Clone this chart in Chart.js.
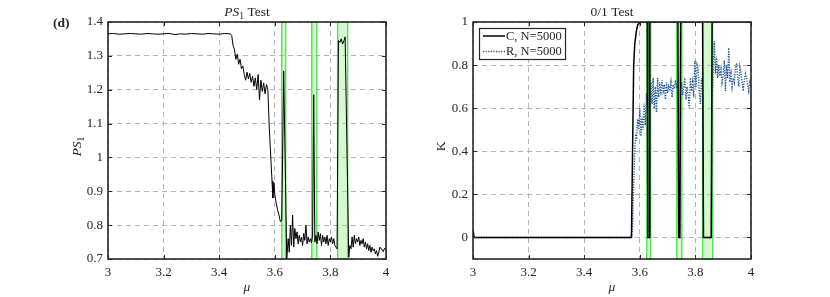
<!DOCTYPE html>
<html>
<head>
<meta charset="utf-8">
<script src="https://cdn.jsdelivr.net/npm/chart.js@4.4.1/dist/chart.umd.min.js"></script>
<style>
html, body { margin: 0; padding: 0; background: #fff; }
#wrap { position: relative; width: 830px; height: 297px; }
canvas { position: absolute; top: 0; }
#left { left: 0; }
#right { left: 415px; }
</style>
</head>
<body>
<div id="wrap">
<canvas id="left" width="415" height="297"></canvas>
<canvas id="right" width="415" height="297"></canvas>
</div>
<script>
"use strict";

// ---- data ----
const muTicks = [3, 3.2, 3.4, 3.6, 3.8, 4];
const muLabels = ["3", "3.2", "3.4", "3.6", "3.8", "4"];
const psTicks = [0.7, 0.8, 0.9, 1, 1.1, 1.2, 1.3, 1.4];
const psLabels = ["0.7", "0.8", "0.9", "1", "1.1", "1.2", "1.3", "1.4"];
const kTicks = [0, 0.2, 0.4, 0.6, 0.8, 1];
const kLabels = ["0", "0.2", "0.4", "0.6", "0.8", "1"];

// periodic windows (green bands)
const bandStart = [3.625, 3.733, 3.826];
const bandEnd = [3.639, 3.751, 3.862];

const psMu = [
    3.00, 3.02, 3.04, 3.06, 3.08, 3.10, 3.12, 3.14, 3.16, 3.18, 3.20, 3.22,
    3.24, 3.26, 3.28, 3.30, 3.32, 3.34, 3.36, 3.38, 3.40, 3.42, 3.44,
    3.445, 3.450, 3.455, 3.460, 3.465, 3.470, 3.475, 3.480, 3.485, 3.490,
    3.495, 3.500, 3.505, 3.510, 3.515, 3.520, 3.525, 3.530, 3.535, 3.540,
    3.545, 3.550, 3.555, 3.560, 3.565, 3.570, 3.575, 3.580, 3.585, 3.590,
    3.593, 3.597, 3.600, 3.605, 3.610, 3.615, 3.620, 3.625, 3.632, 3.643,
    3.648, 3.652, 3.656, 3.660, 3.664, 3.668, 3.672, 3.676, 3.680, 3.684,
    3.688, 3.692, 3.696, 3.700, 3.704, 3.708, 3.712, 3.716, 3.720, 3.724,
    3.728, 3.732, 3.736, 3.740, 3.744, 3.748, 3.752, 3.756, 3.760, 3.764,
    3.768, 3.772, 3.776, 3.780, 3.784, 3.788, 3.792, 3.796, 3.800, 3.804,
    3.808, 3.812, 3.816, 3.820, 3.824, 3.829, 3.834, 3.839, 3.844, 3.849,
    3.853, 3.866, 3.870, 3.874, 3.878, 3.882, 3.886, 3.890, 3.894, 3.898,
    3.902, 3.906, 3.910, 3.914, 3.918, 3.922, 3.926, 3.930, 3.934, 3.938,
    3.942, 3.946, 3.950, 3.954, 3.958, 3.962, 3.966, 3.970, 3.974, 3.978,
    3.982, 3.986, 3.990, 3.995, 4.000
];
const psVal = [
    1.365, 1.366, 1.364, 1.365, 1.366, 1.365, 1.364, 1.366, 1.365, 1.364, 1.365, 1.366,
    1.363, 1.365, 1.364, 1.366, 1.365, 1.364, 1.366, 1.365, 1.364, 1.366, 1.365,
    1.360, 1.330, 1.318, 1.290, 1.305, 1.275, 1.290, 1.262, 1.270, 1.245,
    1.228, 1.252, 1.232, 1.248, 1.222, 1.240, 1.210, 1.235, 1.200, 1.245,
    1.170, 1.228, 1.195, 1.220, 1.188, 1.215, 1.200, 1.090, 1.010, 0.930,
    0.880, 0.925, 0.890, 0.865, 0.845, 0.830, 0.810, 0.815, 1.255, 0.700,
    0.760, 0.720, 0.800, 0.740, 0.830, 0.735, 0.790, 0.760, 0.780, 0.745,
    0.770, 0.750, 0.765, 0.740, 0.775, 0.755, 0.800, 0.745, 0.765, 0.750,
    0.760, 0.748, 0.770, 1.185, 0.750, 0.770, 0.745, 0.780, 0.755, 0.775,
    0.740, 0.770, 0.750, 0.765, 0.745, 0.770, 0.740, 0.760, 0.750, 0.765,
    0.745, 0.760, 0.740, 0.735, 0.730, 1.345, 1.340, 1.350, 1.335, 1.345,
    1.356, 0.705, 0.740, 0.730, 0.765, 0.735, 0.770, 0.745, 0.760, 0.750,
    0.765, 0.740, 0.755, 0.745, 0.760, 0.735, 0.750, 0.730, 0.745, 0.725,
    0.740, 0.720, 0.735, 0.725, 0.730, 0.715, 0.725, 0.708, 0.720, 0.735,
    0.730, 0.728, 0.722, 0.732, 0.726
];

const kMu = [
    3.000, 3.004, 3.100, 3.200, 3.300, 3.400, 3.500, 3.565, 3.570, 3.574,
    3.578, 3.582, 3.585, 3.588, 3.592, 3.596, 3.600, 3.604, 3.608, 3.612,
    3.616, 3.620, 3.624, 3.627, 3.629, 3.634, 3.636, 3.640, 3.644, 3.648,
    3.652, 3.656, 3.660, 3.664, 3.668, 3.672, 3.676, 3.680, 3.684, 3.688,
    3.692, 3.696, 3.700, 3.704, 3.708, 3.712, 3.716, 3.720, 3.724, 3.728,
    3.732, 3.737, 3.740, 3.744, 3.747, 3.750, 3.754, 3.758, 3.762, 3.766,
    3.770, 3.774, 3.778, 3.782, 3.786, 3.790, 3.794, 3.798, 3.802, 3.806,
    3.810, 3.814, 3.818, 3.822, 3.826, 3.829, 3.857, 3.860, 3.864, 3.868,
    3.872, 3.876, 3.880, 3.884, 3.888, 3.892, 3.896, 3.900, 3.904, 3.908,
    3.912, 3.916, 3.920, 3.924, 3.928, 3.932, 3.936, 3.940, 3.944, 3.948,
    3.952, 3.956, 3.960, 3.964, 3.968, 3.972, 3.976, 3.980, 3.984, 3.988,
    3.992, 3.996, 4.000
];
const kC = [
    0.035, 0, 0, 0, 0, 0, 0, 0, 0, 0.40,
    0.80, 0.90, 0.93, 0.96, 0.985, 0.993, 0.997, 0.999, 1, 1,
    1, 1, 1, 1, 0, 0, 1, 1, 1, 1,
    1, 1, 1, 1, 1, 1, 1, 1, 1, 1,
    1, 1, 1, 1, 1, 1, 1, 1, 1, 1,
    1, 1, 0, 0, 1, 1, 1, 1, 1, 1,
    1, 1, 1, 1, 1, 1, 1, 1, 1, 1,
    1, 1, 1, 1, 1, 0, 0, 1, 1, 1,
    1, 1, 1, 1, 1, 1, 1, 1, 1, 1,
    1, 1, 1, 1, 1, 1, 1, 1, 1, 1,
    1, 1, 1, 1, 1, 1, 1, 1, 1, 1,
    1, 1, 1
];
const kR = [
    0, 0, 0, 0, 0, 0, 0, 0, 0, 0.05,
    0.25, 0.40, 0.48, 0.45, 0.55, 0.50, 0.60, 0.47, 0.56, 0.50,
    0.62, 0.52, 0.67, 0.58, 0, 0, 0.60, 0.72, 0.62, 0.74,
    0.60, 0.70, 0.58, 0.74, 0.65, 0.72, 0.66, 0.73, 0.68, 0.71,
    0.64, 0.72, 0.67, 0.70, 0.68, 0.72, 0.65, 0.71, 0.69, 0.73,
    0.70, 0.72, 0, 0, 0.68, 0.72, 0.66, 0.70, 0.74, 0.64,
    0.70, 0.66, 0.60, 0.74, 0.68, 0.72, 0.65, 0.82, 0.70, 0.80,
    0.78, 0.68, 0.62, 0.74, 0.68, 0, 0, 0.64, 0.78, 0.91,
    0.76, 0.84, 0.74, 0.80, 0.75, 0.78, 0.72, 0.75, 0.82, 0.68,
    0.80, 0.74, 0.88, 0.72, 0.76, 0.70, 0.74, 0.72, 0.78, 0.81,
    0.74, 0.70, 0.79, 0.76, 0.72, 0.68, 0.73, 0.76, 0.74, 0.71,
    0.68, 0.72, 0.70
];

// ---- style ----
const SERIF = '"Liberation Serif", "DejaVu Serif", serif';
const INK = "#262626";
const GRID = "#b4b4b4";
const BLUE = "#1d5596";

const pts = (xs, ys) => xs.map((x, i) => ({x, y: ys[i]}));

function drawRuns (ctx, runs, x, y) {
    const parts = runs.map(([t, s]) => {
        const size = s === "s" ? 9.5 : 13.5;
        const font = (s === "i" ? "italic " : s === "b" ? "bold " : "") + size + "px " + SERIF;
        ctx.font = font;
        return {t, s, font, w: ctx.measureText(t).width};
    });
    const total = parts.reduce((a, p) => a + p.w, 0);
    let cx = x - total / 2;

    ctx.textAlign = "left";
    ctx.textBaseline = "alphabetic";
    ctx.fillStyle = INK;
    parts.forEach(p => {
        ctx.font = p.font;
        ctx.fillText(p.t, cx, p.s === "s" ? y + 3 : y);
        cx += p.w;
    });
}

const bandsPlugin = {
    id: "bands",
    beforeDatasetsDraw (chart) {
        const {ctx, chartArea: a, scales: {x}} = chart;

        ctx.save();
        bandStart.forEach((s, i) => {
            const x1 = x.getPixelForValue(s), x2 = x.getPixelForValue(bandEnd[i]);

            ctx.fillStyle = "rgba(150, 238, 140, 0.4)";
            ctx.fillRect(x1, a.top, x2 - x1, a.bottom - a.top);
            ctx.strokeStyle = "#55e255";
            ctx.lineWidth = 1.4;
            ctx.strokeRect(x1, a.top, x2 - x1, a.bottom - a.top);
        });
        ctx.restore();
    }
};

const framePlugin = {
    id: "frame",
    afterDatasetsDraw (chart, args, opts) {
        const {ctx, chartArea: a, scales: {x, y}} = chart;

        ctx.save();
        ctx.strokeStyle = INK;
        ctx.lineWidth = 1;
        ctx.beginPath();
        x.ticks.forEach(t => {
            const px = Math.round(x.getPixelForValue(t.value)) + 0.5;
            ctx.moveTo(px, a.bottom); ctx.lineTo(px, a.bottom - 4);
            ctx.moveTo(px, a.top); ctx.lineTo(px, a.top + 4);
        });
        y.ticks.forEach(t => {
            const py = Math.round(y.getPixelForValue(t.value)) + 0.5;
            ctx.moveTo(a.left, py); ctx.lineTo(a.left + 4, py);
            ctx.moveTo(a.right, py); ctx.lineTo(a.right - 4, py);
        });
        ctx.stroke();

        ctx.lineWidth = 1.6;
        ctx.strokeRect(a.left, a.top, a.right - a.left, a.bottom - a.top);

        const mid = (a.left + a.right) / 2;
        drawRuns(ctx, opts.title, mid, 16);
        drawRuns(ctx, [["μ", "i"]], mid, 291);

        ctx.translate(opts.yLabelX, (a.top + a.bottom) / 2 + 6);
        ctx.rotate(-Math.PI / 2);
        drawRuns(ctx, opts.yLabel, 0, 0);
        ctx.restore();

        if (opts.tag) {
            ctx.save();
            ctx.font = "bold 13.5px " + SERIF;
            ctx.fillStyle = INK;
            ctx.fillText(opts.tag, 53, 27);
            ctx.restore();
        }
    }
};

const legendPlugin = {
    id: "boxLegend",
    afterDraw (chart, args, opts) {
        if (!opts.show) {
            return;
        }

        const {ctx, chartArea: a} = chart;
        const left = a.left + 6, top = a.top + 6;

        ctx.save();
        ctx.fillStyle = "#fff";
        ctx.fillRect(left, top, 86, 31);
        ctx.strokeStyle = INK;
        ctx.lineWidth = 1.2;
        ctx.strokeRect(left + 0.5, top + 0.5, 86, 31);

        chart.data.datasets.forEach((ds, i) => {
            const ly = top + 8 + i * 15.5;

            ctx.beginPath();
            ctx.strokeStyle = ds.borderColor;
            ctx.lineWidth = ds.borderWidth;
            ctx.setLineDash(ds.borderDash || []);
            ctx.moveTo(left + 4, ly);
            ctx.lineTo(left + 26, ly);
            ctx.stroke();
            ctx.setLineDash([]);

            ctx.font = "12.5px " + SERIF;
            ctx.fillStyle = INK;
            ctx.textBaseline = "middle";
            ctx.fillText(ds.label, left + 27, ly + 0.5);
        });
        ctx.restore();
    }
};

function scales (yMin, yMax, yTicks, yLabels, yWidth) {
    const tickFont = {family: SERIF, size: 13};

    return {
        x: {
            type: "linear",
            min: 3,
            max: 4,
            afterBuildTicks: s => { s.ticks = muTicks.map(v => ({value: v})); },
            afterFit: s => { s.height = 38; },
            grid: {color: GRID, drawTicks: false},
            border: {display: false, dash: [5, 4]},
            ticks: {padding: 6, font: tickFont, color: INK, maxRotation: 0, callback: (v, i) => muLabels[i]}
        },
        y: {
            min: yMin,
            max: yMax,
            afterBuildTicks: s => { s.ticks = yTicks.map(v => ({value: v})); },
            afterFit: s => { s.width = yWidth; },
            grid: {color: GRID, drawTicks: false},
            border: {display: false, dash: [5, 4]},
            ticks: {padding: 5, font: tickFont, color: INK, callback: (v, i) => yLabels[i]}
        }
    };
}

new Chart(document.getElementById("left"), {
    type: "line",
    data: {
        datasets: [{
            label: "PS1",
            data: pts(psMu, psVal),
            borderColor: "#000",
            borderWidth: 1,
            pointRadius: 0,
            tension: 0
        }]
    },
    options: {
        responsive: false,
        animation: false,
        devicePixelRatio: 1,
        layout: {padding: {left: 0, right: 29, top: 22, bottom: 0}},
        scales: scales(0.7, 1.4, psTicks, psLabels, 108),
        plugins: {
            legend: {display: false},
            tooltip: {enabled: false},
            frame: {title: [["PS", "i"], ["1", "s"], [" Test", "n"]], yLabel: [["PS", "i"], ["1", "s"]], yLabelX: 81, tag: "(d)"},
            boxLegend: {show: false}
        }
    },
    plugins: [bandsPlugin, framePlugin, legendPlugin]
});

new Chart(document.getElementById("right"), {
    type: "line",
    data: {
        datasets: [{
            label: "C, N=5000",
            data: pts(kMu, kC),
            borderColor: "#000",
            borderWidth: 1.5,
            pointRadius: 0,
            tension: 0
        }, {
            label: "R, N=5000",
            data: pts(kMu, kR),
            borderColor: BLUE,
            borderWidth: 1.4,
            borderDash: [1.2, 1.4],
            pointRadius: 0,
            tension: 0
        }]
    },
    options: {
        responsive: false,
        animation: false,
        devicePixelRatio: 1,
        layout: {padding: {left: 0, right: 79, top: 22, bottom: 0}},
        scales: scales(-0.1, 1, kTicks, kLabels, 58),
        plugins: {
            legend: {display: false},
            tooltip: {enabled: false},
            frame: {title: [["0/1 Test", "n"]], yLabel: [["K", "n"]], yLabelX: 30},
            boxLegend: {show: true}
        }
    },
    plugins: [bandsPlugin, framePlugin, legendPlugin]
});
</script>
</body>
</html>
